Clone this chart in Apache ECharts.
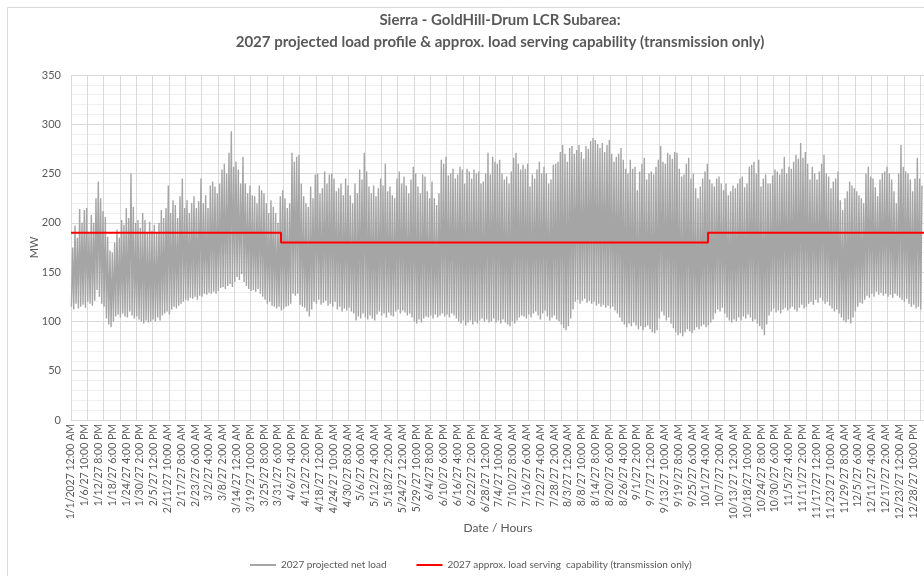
<!DOCTYPE html>
<html>
<head>
<meta charset="utf-8">
<script src="https://cdn.jsdelivr.net/npm/echarts@6/dist/echarts.min.js"></script>
<style>
  html, body { margin: 0; padding: 0; overflow: hidden; background: #fff; }
  #chart { width: 1000px; height: 576px; }
</style>
</head>
<body>
<div id="chart"></div>
<script>
// x axis labels, one every 142 hourly rows
const tickLabels = [
  '1/1/2027 12:00 AM', '1/6/27 10:00 PM', '1/12/27 8:00 PM', '1/18/27 6:00 PM', '1/24/27 4:00 PM',
  '1/30/27 2:00 PM', '2/5/27 12:00 PM', '2/11/27 10:00 AM', '2/17/27 8:00 AM', '2/23/27 6:00 AM',
  '3/2/27 4:00 AM', '3/8/27 2:00 AM', '3/14/27 12:00 AM', '3/19/27 10:00 PM', '3/25/27 8:00 PM',
  '3/31/27 6:00 PM', '4/6/27 4:00 PM', '4/12/27 2:00 PM', '4/18/27 12:00 PM', '4/24/27 10:00 AM',
  '4/30/27 8:00 AM', '5/6/27 6:00 AM', '5/12/27 4:00 AM', '5/18/27 2:00 AM', '5/24/27 12:00 AM',
  '5/29/27 10:00 PM', '6/4/27 8:00 PM', '6/10/27 6:00 PM', '6/16/27 4:00 PM', '6/22/27 2:00 PM',
  '6/28/27 12:00 PM', '7/4/27 10:00 AM', '7/10/27 8:00 AM', '7/16/27 6:00 AM', '7/22/27 4:00 AM',
  '7/28/27 2:00 AM', '8/3/27 12:00 AM', '8/8/27 10:00 PM', '8/14/27 8:00 PM', '8/20/27 6:00 PM',
  '8/26/27 4:00 PM', '9/1/27 2:00 PM', '9/7/27 12:00 PM', '9/13/27 10:00 AM', '9/19/27 8:00 AM',
  '9/25/27 6:00 AM', '10/1/27 4:00 AM', '10/7/27 2:00 AM', '10/13/27 12:00 AM', '10/18/27 10:00 PM',
  '10/24/27 8:00 PM', '10/30/27 6:00 PM', '11/5/27 4:00 PM', '11/11/27 2:00 PM', '11/17/27 12:00 PM',
  '11/23/27 10:00 AM', '11/29/27 8:00 AM', '12/5/27 6:00 AM', '12/11/27 4:00 AM', '12/17/27 2:00 AM',
  '12/23/27 12:00 AM', '12/28/27 10:00 PM'
]

// daily peak of the projected net load (MW)
const dailyHigh = [
  175, 197, 185, 214, 200, 213, 215, 190, 208, 200,
  225, 242, 225, 212, 206, 186, 172, 170, 180, 193,
  185, 203, 198, 215, 205, 250, 216, 200, 203, 195,
  210, 203, 190, 201, 192, 198, 190, 200, 213, 205,
  215, 238, 210, 223, 218, 205, 227, 245, 215, 223,
  210, 220, 227, 215, 222, 245, 220, 228, 215, 238,
  242, 237, 230, 240, 254, 260, 250, 271, 293, 257,
  262, 254, 240, 267, 240, 230, 238, 228, 227, 220,
  238, 233, 230, 220, 210, 223, 216, 210, 200, 227,
  233, 225, 215, 220, 271, 262, 267, 269, 240, 227,
  220, 216, 237, 225, 249, 250, 230, 235, 252, 240,
  249, 250, 245, 232, 235, 240, 228, 245, 238, 228,
  220, 240, 230, 254, 244, 271, 252, 237, 230, 238,
  227, 235, 245, 238, 260, 232, 237, 228, 225, 245,
  252, 240, 247, 238, 230, 244, 257, 250, 237, 230,
  249, 247, 232, 225, 242, 225, 218, 230, 264, 260,
  267, 248, 250, 255, 245, 249, 257, 254, 240, 255,
  252, 245, 254, 250, 252, 240, 242, 250, 271, 249,
  267, 262, 260, 264, 250, 244, 247, 240, 252, 266,
  271, 260, 254, 259, 255, 260, 237, 249, 245, 254,
  262, 250, 257, 250, 240, 244, 259, 260, 262, 272,
  279, 270, 262, 276, 278, 270, 274, 279, 272, 265,
  278, 275, 283, 286, 284, 280, 276, 281, 272, 279,
  284, 270, 262, 267, 270, 276, 264, 255, 250, 264,
  255, 257, 233, 252, 260, 266, 244, 250, 252, 249,
  257, 264, 278, 262, 260, 271, 269, 265, 272, 271,
  255, 247, 249, 260, 266, 245, 250, 235, 225, 237,
  245, 252, 260, 244, 240, 237, 245, 247, 240, 233,
  240, 228, 232, 238, 235, 240, 245, 247, 236, 240,
  257, 259, 262, 250, 264, 237, 245, 249, 240, 240,
  248, 254, 252, 249, 255, 267, 250, 257, 255, 262,
  269, 265, 281, 266, 272, 260, 244, 257, 250, 244,
  252, 260, 269, 250, 247, 235, 242, 245, 252, 223,
  213, 225, 232, 242, 238, 235, 232, 228, 225, 220,
  250, 257, 247, 245, 236, 227, 244, 250, 252, 257,
  250, 244, 232, 220, 250, 279, 257, 252, 250, 244,
  232, 245, 266, 245, 238
]

// daily low of the projected net load (MW)
const dailyLow = [
  115, 112, 118, 113, 115, 117, 114, 120, 118, 116,
  121, 132, 125, 118, 115, 103, 97, 94, 100, 105,
  107, 104, 108, 105, 104, 110, 106, 103, 105, 102,
  100, 98, 101, 99, 100, 102, 100, 104, 101, 106,
  108, 110, 107, 112, 115, 113, 116, 118, 120, 122,
  121, 124, 123, 125, 122, 126, 125, 128, 127, 129,
  128, 130, 128, 131, 134, 135, 133, 136, 138, 135,
  140, 145, 142, 148, 140, 136, 133, 131, 132, 130,
  133, 128, 125, 122, 118, 120, 116, 115, 113, 115,
  111, 113, 115, 116, 118, 128, 126, 128, 117, 115,
  114, 110, 105, 112, 120, 118, 122, 117, 119, 121,
  116, 118, 115, 120, 112, 115, 110, 113, 111, 114,
  110, 108, 101, 105, 103, 108, 104, 102, 106, 103,
  101, 107, 110, 106, 108, 104, 109, 106, 105, 110,
  112, 108, 111, 109, 106, 108, 104, 100, 98, 102,
  99, 103, 105, 104, 106, 103, 107, 104, 106, 108,
  105, 107, 104, 108, 106, 103, 100, 98, 101, 96,
  99, 101, 97, 100, 98, 101, 103, 100, 102, 99,
  100, 103, 99, 101, 98, 102, 99, 97, 95, 100,
  98, 101, 104, 106, 105, 103, 107, 104, 108, 110,
  106, 102, 108, 111, 105, 101, 104, 106, 102, 100,
  97, 93, 91, 95, 103, 112, 120, 122, 118, 121,
  123, 119, 121, 118, 120, 116, 118, 115, 117, 114,
  116, 113, 115, 111, 108, 104, 100, 97, 94, 98,
  95, 99, 96, 92, 95, 91, 94, 96, 92, 89,
  88, 91, 103, 110, 106, 101, 104, 98, 93, 89,
  86, 88, 85, 89, 92, 90, 88, 91, 94, 92,
  95, 97, 94, 96, 99, 102, 108, 112, 110, 114,
  108, 104, 101, 99, 102, 100, 104, 101, 105, 103,
  107, 104, 100, 102, 98, 95, 92, 86, 97, 106,
  110, 113, 109, 111, 108, 112, 114, 111, 113, 115,
  112, 110, 114, 117, 113, 115, 118, 120, 117, 122,
  119, 124, 121, 118, 120, 116, 113, 110, 112, 108,
  104, 101, 99, 102, 98, 104, 110, 115, 119, 118,
  122, 126, 124, 128, 125, 130, 127, 129, 126, 128,
  125, 127, 124, 128, 126, 124, 122, 120, 123, 118,
  115, 117, 113, 115, 112
]

// load serving capability: hour where each level starts, and the level (MW)
const capHours = [0, 2160, 6552, 8784]
const capLevels = [190, 180, 190, 190]

const LOW_HOUR = 4
const HIGH_HOUR = 17
const X_MAX = 8784

const loadData = []
dailyLow.forEach((low, d) => {
  loadData.push([d * 24 + LOW_HOUR, low])
  loadData.push([d * 24 + HIGH_HOUR, dailyHigh[d]])
})
const capData = capHours.map((h, i) => [h, capLevels[i]])

const textColor = '#595959'
const gridColor = '#d9d9d9'
const font = 'Lato, "Open Sans", sans-serif'

const chart = echarts.init(document.getElementById('chart'))
chart.setOption({
  animation: false,
  backgroundColor: '#fff',
  textStyle: { fontFamily: font },
  graphic: [{
    type: 'rect',
    silent: true,
    z: -10,
    shape: { x: 7.5, y: 7.5, width: 1200, height: 700 },
    style: { fill: 'none', stroke: gridColor, lineWidth: 1 }
  }],
  title: {
    left: 'center',
    top: 4,
    text: 'Sierra - GoldHill-Drum LCR Subarea:\n2027 projected load profile & approx. load serving capability (transmission only)',
    textStyle: {
      fontFamily: font,
      fontSize: 15,
      fontWeight: 'bold',
      color: textColor,
      lineHeight: 22
    }
  },
  legend: {
    left: 245,
    top: 555,
    icon: 'rect',
    itemWidth: 26,
    itemHeight: 2,
    itemGap: 30,
    textStyle: { fontFamily: font, fontSize: 10, color: textColor },
    data: ['2027 projected net load', '2027 approx. load serving  capability (transmission only)']
  },
  grid: {
    left: 71,
    right: 75,
    top: 75,
    bottom: 156
  },
  xAxis: [{
    type: 'value',
    min: 0,
    max: X_MAX,
    interval: 142,
    axisLine: { lineStyle: { color: gridColor } },
    axisTick: { show: false },
    splitLine: { show: false },
    axisLabel: {
      rotate: 90,
      margin: 4,
      fontSize: 10.5,
      color: textColor,
      formatter: v => (v % 142 === 0 && tickLabels[v / 142]) || ''
    },
    name: 'Date / Hours',
    nameLocation: 'middle',
    nameGap: 102,
    nameMoveOverlap: false,
    nameTextStyle: { fontFamily: font, fontSize: 12, color: textColor }
  }, {
    // weekly vertical gridlines
    type: 'value',
    position: 'bottom',
    min: 0,
    max: X_MAX,
    interval: 168,
    axisLine: { show: false },
    axisTick: { show: false },
    axisLabel: { show: false },
    splitLine: { show: true, lineStyle: { color: gridColor } }
  }],
  yAxis: {
    type: 'value',
    min: 0,
    max: 350,
    interval: 50,
    axisLine: { show: false },
    axisTick: { show: false },
    axisLabel: { fontSize: 11, color: textColor, margin: 10 },
    splitLine: { lineStyle: { color: gridColor } },
    minorTick: { show: false, splitNumber: 5 },
    minorSplitLine: { show: true, lineStyle: { color: '#efefef' } },
    name: 'MW',
    nameLocation: 'middle',
    nameGap: 31,
    nameMoveOverlap: false,
    nameTextStyle: { fontFamily: font, fontSize: 11, color: textColor }
  },
  series: [{
    name: '2027 projected net load',
    type: 'line',
    xAxisIndex: 0,
    symbol: 'none',
    sampling: null,
    lineStyle: { color: '#a5a5a5', width: 1.4 },
    itemStyle: { color: '#a5a5a5' },
    data: loadData
  }, {
    name: '2027 approx. load serving  capability (transmission only)',
    type: 'line',
    xAxisIndex: 0,
    step: 'end',
    symbol: 'none',
    lineStyle: { color: '#ff0000', width: 2 },
    itemStyle: { color: '#ff0000' },
    data: capData
  }]
})
</script>
</body>
</html>
